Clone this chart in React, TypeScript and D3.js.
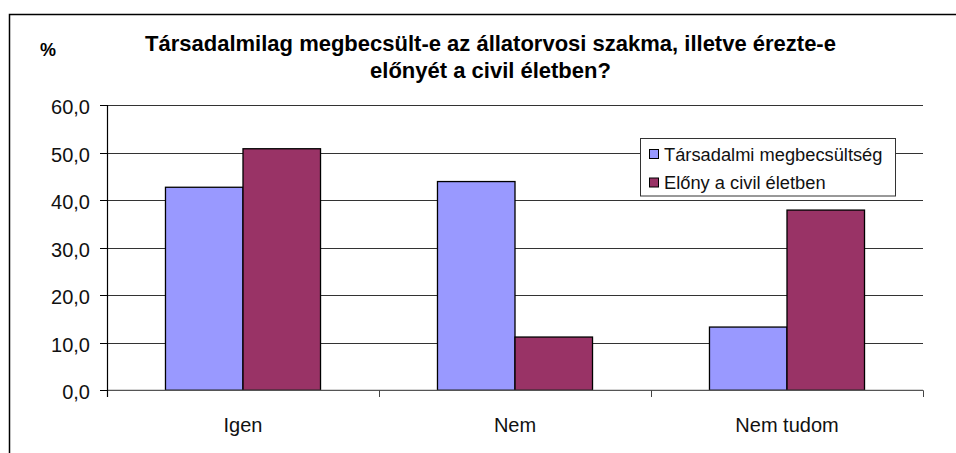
import React from "react";
import * as d3 from "d3";

const categories = ["Igen", "Nem", "Nem tudom"];
const seriesNames = ["Társadalmi megbecsültség", "Előny a civil életben"];
const seriesTarsadalmi = [42.7, 43.9, 13.3];
const seriesElony = [50.8, 11.2, 37.9];
const yTicks = [0, 10, 20, 30, 40, 50, 60];
const colors = ["#9999FF", "#993366"];
const titleLines = ["Társadalmilag megbecsült-e az állatorvosi szakma, illetve érezte-e", "előnyét a civil életben?"];

export default function App() {
  const W = 956, H = 453;
  const left = 107, right = 923, top = 105, bottom = 390.3;
  const x0 = d3.scaleBand().domain(categories).range([left, right]).paddingInner(0.43).paddingOuter(0.215);
  const x1 = d3.scaleBand().domain(["0", "1"]).range([0, x0.bandwidth()]);
  const y = d3.scaleLinear().domain([0, 60]).range([bottom, top]);
  const series = [seriesTarsadalmi, seriesElony];
  const step = (right - left) / categories.length;
  const font = "Arial, 'Liberation Sans', sans-serif";
  const fmt = (v: number) => v.toFixed(1).replace(".", ",");
  return (
    <svg width={W} height={H} style={{ position: "absolute", left: 0, top: 0 }} fontFamily={font}>
      <rect x={0} y={0} width={W} height={H} fill="#fff" />
      <path d={`M9.5,${H} V14.5 H${W}`} fill="none" stroke="#000" strokeWidth={1.5} />
      <text x={40} y={55.5} fontSize={18} fontWeight="bold">%</text>
      {titleLines.map((t, i) => (
        <text key={i} x={490.5} y={51 + i * 27} fontSize={22} fontWeight="bold" textAnchor="middle">{t}</text>
      ))}
      {yTicks.map((t) => (
        <g key={t}>
          {t > 0 && <line x1={left} x2={right} y1={Math.round(y(t)) + 0.5} y2={Math.round(y(t)) + 0.5} stroke="#333" strokeWidth={1} />}
          <line x1={100} x2={left} y1={Math.round(y(t)) + 0.5} y2={Math.round(y(t)) + 0.5} stroke="#000" />
          <text x={90} y={y(t) + 9} fontSize={20} textAnchor="end" fill="#111">{fmt(t)}</text>
        </g>
      ))}
      {categories.map((c, ci) =>
        series.map((s, si) => {
          const xx = (x0(c) as number) + (x1(String(si)) as number);
          return (
            <rect key={c + si} x={xx} y={y(s[ci])} width={x1.bandwidth()} height={bottom - y(s[ci])}
              fill={colors[si]} stroke="#000" strokeWidth={1.3} />
          );
        })
      )}
      <line x1={left} x2={right} y1={bottom} y2={bottom} stroke="#555" strokeWidth={1.3} />
      {d3.range(categories.length + 1).map((i) => (
        <line key={i} x1={Math.round(left + i * step) + 0.5} x2={Math.round(left + i * step) + 0.5} y1={bottom} y2={397} stroke="#444" />
      ))}
      <line x1={left + 0.5} x2={left + 0.5} y1={top} y2={397} stroke="#000" strokeWidth={1.2} />
      {categories.map((c) => (
        <text key={c} x={(x0(c) as number) + x0.bandwidth() / 2} y={431.5} fontSize={20} textAnchor="middle" fill="#111">{c}</text>
      ))}
      <rect x={640.5} y={138.5} width={255} height={57.5} fill="#fff" stroke="#333" strokeWidth={1} />
      {seriesNames.map((n, i) => (
        <g key={n}>
          <rect x={649.5} y={149.5 + i * 28.5} width={9} height={9} fill={colors[i]} stroke="#000" strokeWidth={1} />
          <text x={664} y={161 + i * 28} fontSize={18.3} fill="#111">{n}</text>
        </g>
      ))}
    </svg>
  );
}
